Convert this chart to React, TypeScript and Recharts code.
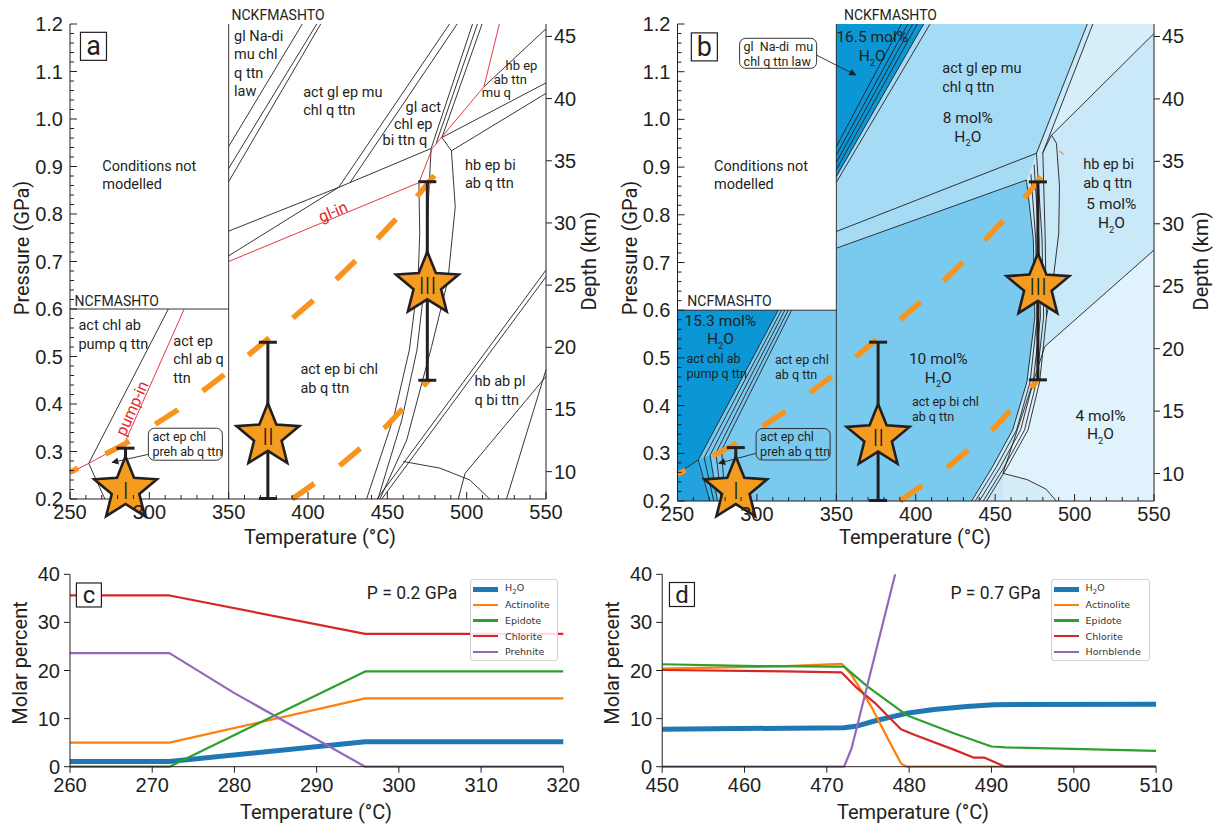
import React from 'react';
import { ComposedChart, Line, Area, Scatter, XAxis, YAxis, ErrorBar, Legend } from 'recharts';

type Pt = [number, number];

const INK = '#231f20';
const RED = '#e3262d';
const ORANGE = '#f7941d';
const STAR_FILL = '#f39c1f';
const SANS = 'Roboto, "Open Sans", sans-serif';
const ARIAL = '"Liberation Sans", Arial, sans-serif';
const MPL = '"DejaVu Sans", sans-serif';

// ---------- axes
const tempTicks = [250, 300, 350, 400, 450, 500, 550];
const pressureTicks = [0.2, 0.3, 0.4, 0.5, 0.6, 0.7, 0.8, 0.9, 1.0, 1.1, 1.2];
const depthTicks = [10, 15, 20, 25, 30, 35, 40, 45];
const depthRange = [7.8, 46];
const molarTicks = [0, 10, 20, 30, 40];
const cTempTicks = [260, 270, 280, 290, 300, 310, 320];
const dTempTicks = [450, 460, 470, 480, 490, 500, 510];

const subdivide = (major: number[], parts: number) => {
  const out: number[] = [];
  for (let i = 0; i < major.length - 1; i++) {
    const step = (major[i + 1] - major[i]) / parts;
    for (let k = 1; k < parts; k++) out.push(+(major[i] + k * step).toFixed(4));
  }
  return out;
};

// ---------- geotherms (orange dashes), same in a and b
const geoHighT = [250, 284.6, 318, 350, 381, 411, 439, 467, 492];
const geoHighP = [0.256, 0.316, 0.388, 0.469, 0.554, 0.64, 0.731, 0.83, 0.931];
const geoLowT = [390, 418.5, 450, 476.5];
const geoLowP = [0.2, 0.266, 0.355, 0.452];

// ---------- panel a
const aLines: Pt[][] = [
  [[350, 0.2], [350, 1.2]],
  [[250, 0.6], [350, 0.6]],
  [[261.8, 0.275], [312, 0.6]],
  [[261.8, 0.275], [272, 0.2]],
  [[284, 0.315], [288, 0.2]],
  [[350, 0.942], [396.4, 1.2]],
  [[350, 0.896], [405.5, 1.2]],
  [[350, 0.868], [408, 1.2]],
  [[350, 0.764], [419.3, 0.856], [477.6, 0.938]],
  [[350, 0.712], [419.3, 0.856]],
  [[419.3, 0.856], [489.2, 1.2]],
  [[426.5, 0.866], [494, 1.2]],
  [[477.6, 0.938], [503.7, 1.2]],
  [[480.8, 0.949], [506.8, 1.2]],
  [[484.4, 0.961], [509.7, 1.2]],
  [[510.9, 1.068], [550, 1.19]],
  [[484.4, 0.961], [550, 1.076]],
  [[490.4, 0.933], [550, 1.054]],
  [[484.4, 0.961], [490.4, 0.933]],
  [[469.9, 0.866], [470.4, 0.759], [469.4, 0.661], [463.9, 0.514], [454.2, 0.374], [436.9, 0.2]],
  [[477.6, 0.938], [475.9, 0.829], [473.8, 0.661], [468.7, 0.514], [459.1, 0.366], [444.1, 0.2]],
  [[490.4, 0.933], [492.8, 0.815], [488.2, 0.661], [477.9, 0.521], [462.2, 0.324], [445.3, 0.2]],
  [[443.5, 0.2], [550, 0.682]],
  [[446.5, 0.2], [550, 0.668]],
  [[460, 0.279], [483.2, 0.265], [502, 0.24], [514.5, 0.2]],
  [[494.7, 0.2], [499, 0.254], [550, 0.458]],
  [[525.1, 0.2], [550, 0.472]],
];
const aRedLines: Pt[][] = [
  [[250, 0.255], [261.8, 0.275], [284, 0.315], [322, 0.6]],
  [[350, 0.7], [469.9, 0.866], [478.3, 0.938], [510.9, 1.068], [520.6, 1.2]],
];
const aLabels = [
  { x: 353.4, y: 1.175, text: 'gl Na-di\nmu chl\nq ttn\nlaw' },
  { x: 397, y: 1.058, text: 'act gl ep mu\nchl q ttn' },
  { x: 461.5, y: 1.025, text: 'gl act' },
  { x: 454.2, y: 0.989, text: 'chl ep' },
  { x: 447, y: 0.957, text: 'bi ttn q' },
  { x: 498.9, y: 0.903, text: 'hb ep bi\nab q ttn' },
  { x: 270.3, y: 0.902, text: 'Conditions not\nmodelled' },
  { x: 255.3, y: 0.566, text: 'act chl ab\npump q ttn' },
  { x: 315.1, y: 0.533, text: 'act ep\nchl ab q\nttn' },
  { x: 395.2, y: 0.473, text: 'act ep bi chl\nab q ttn' },
  { x: 504.9, y: 0.448, text: 'hb ab pl\nq bi ttn' },
];
const aTightLabels = [
  { x: 524.5, y: 1.113, text: 'hb ep' },
  { x: 517, y: 1.084, text: 'ab ttn' },
  { x: 509.5, y: 1.056, text: 'mu q' },
];
const aSystem = [{ x: 252.9, y: 0.617, text: 'NCFMASHTO' }];
const aSystemTop = [{ x: 351.8, y: 1.2, text: 'NCKFMASHTO' }];
const aGlIn = [{ x: 415.7, y: 0.805, text: 'gl-in' }];
const aPumpIn = [{ x: 289.1, y: 0.391, text: 'pump-in' }];
const aCallout = [{ x: 299.4, y: 0.349, text: 'act ep chl\npreh ab q ttn' }];
const aArrow: Pt[] = [[299.4, 0.294], [276.5, 0.277]];
const aLetter = [{ x: 264.8, y: 1.153, text: 'a' }];
const aStars = [
  { x: 285, y: 0.22, n: 'I', err: [0.019, 0.087] },
  { x: 374.7, y: 0.332, n: 'II', err: [0.131, 0.198] },
  { x: 475.2, y: 0.651, n: 'III', err: [0.201, 0.217] },
];

// ---------- panel b
const bFill5 = [[350, 0.2, 1.2], [550, 0.2, 1.2]];
const bFillTopRight = [[485.5, 0.967, 0.979], [511.5, 1.053, 1.2], [550, 1.18, 1.2]];
const bFill4 = [[454.9, 0.258, 0.258], [470, 0.245, 0.41], [481.3, 0.222, 0.524], [488.5, 0.2, 0.545], [550, 0.2, 0.726]];
const bFillArc = [[454.9, 0.2, 0.258], [470, 0.2, 0.245], [482, 0.2, 0.225], [488.5, 0.2, 0.2]];
const bFill8 = [[350, 0.73, 1.2], [469.7, 0.873, 1.2], [476, 0.929, 1.2], [478, 0.94, 1.2], [508, 1.2, 1.2]];
const bFill10 = [[350, 0.2, 0.73], [435.2, 0.2, 0.832], [448, 0.27, 0.847], [461, 0.349, 0.863], [469.7, 0.445, 0.873], [472, 0.5, 0.807], [474, 0.55, 0.75], [475, 0.586, 0.62]];
const bFill16 = [[350, 0.88, 1.2], [405, 1.2, 1.2]];
const bFillNcf = [[250, 0.2, 0.6], [350, 0.2, 0.6]];
const bFill15 = [[250, 0.258, 0.6], [263.1, 0.286, 0.6], [313.4, 0.6, 0.6]];
const bFillCorner = [[250, 0.2, 0.258], [263.1, 0.2, 0.286], [270.4, 0.2, 0.2]];
const bFillStrip = [[263.1, 0.286, 0.286], [266.8, 0.243, 0.291], [270.4, 0.2, 0.296], [275.2, 0.2, 0.2]];

const bLines: Pt[][] = [
  [[350, 0.2], [350, 1.2]],
  [[250, 0.6], [350, 0.6]],
  [[250, 0.258], [263.1, 0.286]],
  [[313.4, 0.6], [263.1, 0.286], [270.4, 0.2]],
  [[315.5, 0.6], [266.8, 0.291], [272.8, 0.2]],
  [[317.6, 0.6], [270.5, 0.296], [275.2, 0.2]],
  [[319.7, 0.6], [274.2, 0.301], [277.6, 0.2]],
  [[321.8, 0.6], [277.8, 0.307], [279.9, 0.2]],
  [[350, 0.943], [391, 1.2]],
  [[350, 0.925], [395, 1.2]],
  [[350, 0.91], [398, 1.2]],
  [[350, 0.895], [401, 1.2]],
  [[350, 0.88], [405, 1.2]],
  [[350, 0.868], [409, 1.2]],
  [[350, 0.765], [476, 0.929]],
  [[350, 0.73], [469.7, 0.873]],
  [[435.2, 0.2], [448, 0.27], [461, 0.349], [470, 0.45], [475, 0.586], [474, 0.75], [469.7, 0.873]],
  [[437.5, 0.2], [450.5, 0.27], [463.5, 0.349], [472, 0.45], [476.5, 0.586], [475.5, 0.75], [472.5, 0.885]],
  [[440, 0.2], [453, 0.27], [466, 0.349], [474, 0.45], [478.5, 0.586], [477.5, 0.75], [474.5, 0.905]],
  [[442.5, 0.2], [455.5, 0.27], [468.5, 0.349], [476, 0.45], [480.5, 0.586], [479.5, 0.75], [476, 0.929]],
  [[444.6, 0.2], [457.5, 0.27], [470.7, 0.349], [478, 0.45], [482.3, 0.586], [481.5, 0.75], [480, 0.93]],
  [[476, 0.929], [508, 1.2]],
  [[480, 0.93], [511.5, 1.2]],
  [[480, 0.93], [485.5, 0.967], [488.6, 0.95], [490.5, 0.86], [490, 0.76], [486, 0.65], [482.3, 0.586]],
  [[485.5, 0.967], [550, 1.18]],
  [[550, 0.726], [481.3, 0.524], [454.9, 0.258], [470, 0.245], [482, 0.225], [488.5, 0.2]],
];
const bLabels = [
  { x: 273, y: 0.903, text: 'Conditions not\nmodelled' },
  { x: 416.7, y: 1.107, text: 'act gl ep mu\nchl q ttn' },
  { x: 505.4, y: 0.906, text: 'hb ep bi\nab q ttn' },
];
const bWater = [
  { x: 372.6, y: 1.173, text: '16.5 mol%\nH2O' },
  { x: 432.8, y: 1.004, text: '8 mol%\nH2O' },
  { x: 277, y: 0.579, text: '15.3 mol%\nH2O' },
  { x: 414.2, y: 0.499, text: '10 mol%\nH2O' },
  { x: 523.2, y: 0.823, text: '5 mol%\nH2O' },
  { x: 516.3, y: 0.38, text: '4 mol%\nH2O' },
];
const bSmall = [
  { x: 255.7, y: 0.499, text: 'act chl ab\npump q ttn' },
  { x: 311.4, y: 0.497, text: 'act ep chl\nab q ttn' },
  { x: 397.6, y: 0.408, text: 'act ep bi chl\nab q ttn' },
];
const bSystem = [{ x: 256.2, y: 0.619, text: 'NCFMASHTO' }];
const bSystemTop = [{ x: 354.8, y: 1.2, text: 'NCKFMASHTO' }];
const bCalloutTop = [{ x: 289.1, y: 1.17, text: 'gl  Na-di  mu\nchl q ttn law' }];
const bArrowTop: Pt[] = [[337.4, 1.135], [362.2, 1.093]];
const bCalloutLow = [{ x: 299.5, y: 0.352, text: 'act ep chl\npreh ab q ttn' }];
const bArrowLow: Pt[] = [[299.5, 0.3], [276, 0.279]];
const bLetter = [{ x: 266.9, y: 1.152, text: 'b' }];
const bStars = [
  { x: 286.7, y: 0.224, n: 'I', err: [0.023, 0.088] },
  { x: 376.3, y: 0.334, n: 'II', err: [0.133, 0.199] },
  { x: 476.9, y: 0.65, n: 'III', err: [0.196, 0.219] },
];

// ---------- panel c (P = 0.2 GPa)
const cTemps = [260, 272.1, 295.9, 320];
const cH2O = [1.1, 1.1, 5.2, 5.2];
const cAct = [5.0, 5.0, 14.2, 14.2];
const cEpi = [0, 0, 19.8, 19.8];
const cChl = [35.6, 35.6, 27.6, 27.6];
const cPrhT = [260, 272.1, 280, 295.9, 320];
const cPrh = [23.6, 23.6, 15.3, 0, 0];

// ---------- panel d (P = 0.7 GPa)
const dH2OT = [450, 472.1, 473.5, 476, 479.7, 483, 487, 490.3, 510];
const dH2O = [7.8, 8.1, 8.4, 9.6, 11.1, 11.9, 12.5, 12.9, 13.0];
const dActT = [450, 465, 471.8, 473, 475.4, 477.3, 479, 479.7, 510];
const dAct = [20.4, 20.9, 21.4, 19.1, 12.5, 6.2, 0.7, 0, 0];
const dEpiT = [450, 461.6, 472.1, 475, 479.7, 485.5, 490, 491.7, 499.8, 510];
const dEpi = [21.3, 20.9, 20.8, 16.6, 10.7, 6.9, 4.2, 4.0, 3.7, 3.3];
const dChlT = [450, 464.9, 471.8, 473.5, 476, 479, 480.7, 485.5, 487.8, 489.1, 490.7, 491.7, 510];
const dChl = [20.1, 19.8, 19.6, 16.6, 13.0, 7.8, 6.6, 3.5, 1.9, 1.9, 0.7, 0, 0];
const dHblT = [450, 472.1, 473, 478.3];
const dHbl = [0, 0, 3.8, 40];

// ---------- helpers
const zip = (xs: number[], ys: number[]) => xs.map((x, i) => ({ x, y: ys[i] }));
const toXY = (pts: Pt[]) => pts.map(([x, y]) => ({ x, y }));
const toRange = (pts: number[][]) => pts.map(([x, lo, hi]) => ({ x, r: [lo, hi] }));

function rich(s: string, size: number) {
  const i = s.indexOf('H2O');
  if (i < 0) return s;
  return [
    s.slice(0, i),
    'H',
    <tspan key="s" dy={size * 0.3} fontSize={size * 0.6}>2</tspan>,
    <tspan key="o" dy={-size * 0.3}>O</tspan>,
    s.slice(i + 3),
  ];
}

function axisTick(side: string, majors: number[], o: any) {
  return (props: any) => {
    const x = Number(props.x);
    const y = Number(props.y);
    const v = Number(props.payload && props.payload.value);
    const major = majors.some((m) => Math.abs(m - v) < 1e-6);
    const len = major ? o.len : o.minor;
    const s = o.inward ? 1 : -1;
    const off = (o.inward ? 0 : len) + o.gap;
    const txt = major ? v.toFixed(o.digits) : '';
    const ts = { fontFamily: ARIAL, fontSize: 20, fill: INK };
    if (side === 'left') {
      return (
        <g>
          {len > 0 && <line x1={x} y1={y} x2={x + s * len} y2={y} stroke={INK} strokeWidth={1} />}
          {txt && <text x={x - off} y={y} textAnchor="end" dominantBaseline="central" {...ts}>{txt}</text>}
        </g>
      );
    }
    if (side === 'right') {
      return (
        <g>
          {len > 0 && <line x1={x} y1={y} x2={x - s * len} y2={y} stroke={INK} strokeWidth={1} />}
          {txt && <text x={x + off} y={y} textAnchor="start" dominantBaseline="central" {...ts}>{txt}</text>}
        </g>
      );
    }
    return (
      <g>
        {len > 0 && <line x1={x} y1={y} x2={x} y2={y - s * len} stroke={INK} strokeWidth={1} />}
        {txt && <text x={x} y={y + off} textAnchor="middle" dominantBaseline="hanging" {...ts}>{txt}</text>}
      </g>
    );
  };
}

const title = (text: string, x: number, y: number, rot = 0) => () => (
  <text
    x={x}
    y={y}
    transform={rot ? `rotate(${rot} ${x} ${y})` : undefined}
    textAnchor="middle"
    dominantBaseline="central"
    fontFamily={SANS}
    fontSize={20}
    fill={INK}
  >
    {text}
  </text>
);

function textShape(o: { size: number; lh: number; anchor: string; color?: string; rotate?: number; dy?: number }) {
  return (p: any) => {
    const cx = p.cx;
    const cy = p.cy + (o.dy || 0);
    const lines = String(p.payload.text).split('\n');
    return (
      <text
        x={cx}
        y={cy}
        fontFamily={SANS}
        fontSize={o.size}
        fill={o.color || INK}
        textAnchor={o.anchor}
        style={{ whiteSpace: 'pre' }}
        transform={o.rotate ? `rotate(${o.rotate} ${cx} ${cy})` : undefined}
      >
        {lines.map((ln, i) => (
          <tspan key={i} x={cx} dy={i === 0 ? o.size * 0.35 : o.lh}>
            {rich(ln, o.size)}
          </tspan>
        ))}
      </text>
    );
  };
}

function calloutShape(w: number, h: number, fill: string) {
  return (p: any) => {
    const lines = String(p.payload.text).split('\n');
    return (
      <g>
        <rect x={p.cx} y={p.cy} width={w} height={h} rx={6} ry={6} fill={fill} stroke={INK} strokeWidth={0.9} />
        <text x={p.cx + 4} y={p.cy} fontFamily={SANS} fontSize={12.5} fill={INK} style={{ whiteSpace: 'pre' }}>
          {lines.map((ln, i) => (
            <tspan key={i} x={p.cx + 4} dy={i === 0 ? h * 0.27 + 4.4 : 15}>{ln}</tspan>
          ))}
        </text>
      </g>
    );
  };
}

function letterShape(w: number, h: number, size: number) {
  return (p: any) => (
    <g>
      <rect x={p.cx - w / 2} y={p.cy - h / 2} width={w} height={h} fill="#fff" stroke={INK} strokeWidth={1.2} />
      <text x={p.cx} y={p.cy} textAnchor="middle" dominantBaseline="central" fontFamily={SANS} fontSize={size} fill={INK}>
        {p.payload.text}
      </text>
    </g>
  );
}

const StarShape = (p: any) => {
  const R = 33;
  const r = 14.5;
  const pts: string[] = [];
  for (let i = 0; i < 10; i++) {
    const rad = i % 2 === 0 ? R : r;
    const a = -Math.PI / 2 + (i * Math.PI) / 5;
    pts.push(`${p.cx + rad * Math.cos(a)},${p.cy + rad * Math.sin(a)}`);
  }
  return (
    <g>
      <polygon points={pts.join(' ')} fill={STAR_FILL} stroke={INK} strokeWidth={2.6} strokeLinejoin="miter" />
      <text x={p.cx} y={p.cy + 1} textAnchor="middle" dominantBaseline="central" fontFamily={SANS} fontWeight={300} fontSize={24} letterSpacing={-0.5} fill={INK}>
        {p.payload.n}
      </text>
    </g>
  );
};

const NoShape = () => <g />;

const lineCommon = { dot: false, activeDot: false, isAnimationActive: false, legendType: 'none' as const };

function PhasePanel({ P }: { P: any }) {
  const tickL = axisTick('left', pressureTicks, { inward: true, len: 7, minor: 4, gap: 7, digits: 1 });
  const tickB = axisTick('bottom', tempTicks, { inward: true, len: 7, minor: 4, gap: 6, digits: 0 });
  const tickR = axisTick('right', depthTicks, { inward: false, len: 6, minor: 0, gap: 2, digits: 0 });
  return (
    <ComposedChart width={P.width} height={560} margin={{ top: 24, right: 0, bottom: 0, left: 0 }}>
      {P.fills.map((f: any, i: number) => (
        <Area
          key={'fill' + i}
          data={toRange(f.pts)}
          dataKey="r"
          type="linear"
          stroke="none"
          fill={f.color}
          fillOpacity={1}
          dot={false}
          activeDot={false}
          isAnimationActive={false}
          legendType="none"
        />
      ))}
      <XAxis
        dataKey="x"
        type="number"
        domain={[250, 550]}
        ticks={[...tempTicks, ...subdivide(tempTicks, 5)]}
        interval={0}
        tickSize={0}
        tickMargin={0}
        tickLine={false}
        tick={tickB}
        axisLine={{ stroke: INK, strokeWidth: 1 }}
        height={P.xh}
        label={title('Temperature (°C)', P.titles.t[0], P.titles.t[1])}
      />
      <XAxis xAxisId="top" orientation="top" type="number" domain={[250, 550]} height={0} tick={false} tickLine={false} axisLine={{ stroke: INK, strokeWidth: 1 }} />
      <YAxis
        dataKey="y"
        type="number"
        domain={[0.2, 1.2]}
        ticks={[...pressureTicks, ...subdivide(pressureTicks, 5)]}
        interval={0}
        width={P.yw}
        tickSize={0}
        tickMargin={0}
        tickLine={false}
        tick={tickL}
        axisLine={{ stroke: INK, strokeWidth: 1 }}
        label={title('Pressure (GPa)', P.titles.p[0], P.titles.p[1], -90)}
      />
      <YAxis
        yAxisId="depth"
        dataKey="y"
        orientation="right"
        type="number"
        domain={depthRange}
        ticks={depthTicks}
        interval={0}
        width={P.rw}
        tickSize={0}
        tickMargin={0}
        tickLine={false}
        tick={tickR}
        axisLine={{ stroke: INK, strokeWidth: 1 }}
        label={title('Depth (km)', P.titles.d[0], P.titles.d[1], -90)}
      />
      {/* invisible carrier so the depth axis gets its scale */}
      <Line yAxisId="depth" data={[{ x: 250, y: depthRange[0] }, { x: 250, y: depthRange[1] }]} dataKey="y" stroke="transparent" strokeWidth={0} {...lineCommon} />
      {P.black.map((pts: Pt[], i: number) => (
        <Line key={'b' + i} data={toXY(pts)} dataKey="y" type="linear" stroke={INK} strokeWidth={0.9} {...lineCommon} />
      ))}
      {P.red.map((pts: Pt[], i: number) => (
        <Line key={'r' + i} data={toXY(pts)} dataKey="y" type="linear" stroke={RED} strokeWidth={0.9} {...lineCommon} />
      ))}
      {P.arrows.map((pts: Pt[], i: number) => (
        <Line key={'a' + i} data={toXY(pts)} dataKey="y" type="linear" stroke={INK} strokeWidth={0.9} markerEnd="url(#arrowHead)" {...lineCommon} />
      ))}
      <Line data={zip(geoHighT, geoHighP)} dataKey="y" type="linear" stroke={ORANGE} strokeWidth={5.5} strokeDasharray="27 31" strokeDashoffset={18} {...lineCommon} />
      <Line data={zip(geoLowT, geoLowP)} dataKey="y" type="linear" stroke={ORANGE} strokeWidth={5.5} strokeDasharray="27 31" {...lineCommon} />
      {P.texts.map((t: any, i: number) => (
        <Scatter key={'t' + i} data={t.data} dataKey="y" shape={textShape(t.style)} isAnimationActive={false} legendType="none" />
      ))}
      {P.callouts.map((c: any, i: number) => (
        <Scatter key={'c' + i} data={c.data} dataKey="y" shape={calloutShape(c.w, c.h, c.fill)} isAnimationActive={false} legendType="none" />
      ))}
      <Scatter data={P.letter} dataKey="y" shape={letterShape(26, 28, 27)} isAnimationActive={false} legendType="none" />
      <Scatter data={P.stars} dataKey="y" shape={NoShape} isAnimationActive={false} legendType="none">
        <ErrorBar dataKey="err" direction="y" width={9} stroke={INK} strokeWidth={3} isAnimationActive={false} />
      </Scatter>
      <Scatter data={P.stars} dataKey="y" shape={StarShape} isAnimationActive={false} legendType="none" />
    </ComposedChart>
  );
}

function legendContent(items: any[], w: number) {
  return () => (
    <div
      style={{
        width: w,
        height: 82,
        boxSizing: 'border-box',
        border: '1px solid #d0d0d0',
        borderRadius: 3,
        background: 'rgba(255,255,255,0.85)',
        paddingTop: 1.5,
      }}
    >
      {items.map((it) => (
        <div key={it.name} style={{ display: 'flex', alignItems: 'center', height: 15.6 }}>
          <span style={{ display: 'inline-block', marginLeft: 2, width: 25, height: it.w, background: it.color }} />
          <span style={{ marginLeft: 7, fontFamily: MPL, fontSize: 9.5, color: '#333', whiteSpace: 'nowrap' }}>
            {it.name === 'H2O' ? (
              <>
                H<sub style={{ fontSize: 7 }}>2</sub>O
              </>
            ) : (
              it.name
            )}
          </span>
        </div>
      ))}
    </div>
  );
}

function MolarPanel({ P }: { P: any }) {
  const tickL = axisTick('left', molarTicks, { inward: false, len: 6, minor: 0, gap: 4, digits: 0 });
  const tickB = axisTick('bottom', P.ticks, { inward: false, len: 6, minor: 0, gap: 5, digits: 0 });
  return (
    <ComposedChart width={P.width} height={265} margin={{ top: 14.3, right: P.mr, bottom: 0, left: 0 }}>
      <XAxis
        dataKey="x"
        type="number"
        domain={P.domain}
        ticks={P.ticks}
        interval={0}
        tickSize={0}
        tickMargin={0}
        tickLine={false}
        tick={tickB}
        axisLine={{ stroke: INK, strokeWidth: 1 }}
        height={58.3}
        label={title('Temperature (°C)', P.titles.t[0], P.titles.t[1])}
      />
      <XAxis xAxisId="top" orientation="top" type="number" domain={P.domain} height={0} tick={false} tickLine={false} axisLine={{ stroke: INK, strokeWidth: 1 }} />
      <YAxis
        dataKey="y"
        type="number"
        domain={[0, 40]}
        ticks={molarTicks}
        interval={0}
        width={P.yw}
        tickSize={0}
        tickMargin={0}
        tickLine={false}
        tick={tickL}
        axisLine={{ stroke: INK, strokeWidth: 1 }}
        label={title('Molar percent', P.titles.m[0], P.titles.m[1], -90)}
      />
      <YAxis yAxisId="spine" orientation="right" type="number" domain={[0, 40]} width={0} tick={false} tickLine={false} axisLine={{ stroke: INK, strokeWidth: 1 }} />
      {P.series.map((s: any) => (
        <Line
          key={s.name}
          name={s.name}
          data={s.data}
          dataKey="y"
          type="linear"
          stroke={s.color}
          strokeWidth={s.w}
          strokeLinejoin="round"
          dot={false}
          activeDot={false}
          isAnimationActive={false}
        />
      ))}
      <Scatter data={P.pText} dataKey="y" shape={textShape({ size: 17.5, lh: 20, anchor: 'middle' })} isAnimationActive={false} legendType="none" />
      <Scatter data={P.letter} dataKey="y" shape={letterShape(25, 24, 24)} isAnimationActive={false} legendType="none" />
      <Legend
        layout="vertical"
        align="center"
        verticalAlign="middle"
        wrapperStyle={{ left: P.legendLeft, top: 19, width: P.legendW }}
        content={legendContent(P.series, P.legendW)}
      />
    </ComposedChart>
  );
}

const regionStyle = { size: 14.5, lh: 18.3, anchor: 'start' };
const systemStyle = { size: 14, lh: 16, anchor: 'start' };

const panelA = {
  width: 600,
  yw: 70,
  rw: 54,
  xh: 61,
  titles: { p: [21.5, 248], d: [588.5, 261], t: [320, 537] },
  fills: [],
  black: aLines,
  red: aRedLines,
  arrows: [aArrow],
  texts: [
    { data: aLabels, style: regionStyle },
    { data: aTightLabels, style: { size: 13, lh: 16, anchor: 'start' } },
    { data: aSystem, style: systemStyle },
    { data: aSystemTop, style: { ...systemStyle, dy: -9 } },
    { data: aGlIn, style: { size: 16, lh: 16, anchor: 'middle', color: RED, rotate: -22.5 } },
    { data: aPumpIn, style: { size: 16, lh: 16, anchor: 'middle', color: RED, rotate: -66 } },
  ],
  callouts: [{ data: aCallout, w: 74, h: 32, fill: '#fff' }],
  letter: aLetter,
  stars: aStars,
};

const panelB = {
  width: 617,
  yw: 77.5,
  rw: 63,
  xh: 59,
  titles: { p: [29.5, 248], d: [601, 261], t: [315, 537] },
  fills: [
    { pts: bFill5, color: '#c9e8f8' },
    { pts: bFillTopRight, color: '#d7effb' },
    { pts: bFill4, color: '#e0f2fc' },
    { pts: bFillArc, color: '#d4edf9' },
    { pts: bFill8, color: '#a6dbf6' },
    { pts: bFill10, color: '#7acaf0' },
    { pts: bFill16, color: '#0b96d5' },
    { pts: bFillNcf, color: '#7acaf0' },
    { pts: bFill15, color: '#0b96d5' },
    { pts: bFillCorner, color: '#23a2dd' },
    { pts: bFillStrip, color: '#3ab6ea' },
  ],
  black: bLines,
  red: [],
  arrows: [bArrowTop, bArrowLow],
  texts: [
    { data: bLabels, style: regionStyle },
    { data: bWater, style: { size: 15.5, lh: 18.7, anchor: 'middle' } },
    { data: bSmall, style: { size: 12.5, lh: 15.2, anchor: 'start' } },
    { data: bSystem, style: systemStyle },
    { data: bSystemTop, style: { ...systemStyle, dy: -9 } },
  ],
  callouts: [
    { data: bCalloutTop, w: 77, h: 30, fill: '#fff' },
    { data: bCalloutLow, w: 74, h: 31.5, fill: '#7acaf0' },
  ],
  letter: bLetter,
  stars: bStars,
};

const panelC = {
  width: 600,
  yw: 70,
  mr: 36.7,
  domain: [260, 320],
  ticks: cTempTicks,
  titles: { m: [20, 103], t: [316, 252] },
  series: [
    { name: 'H2O', color: '#1f77b4', w: 5, data: zip(cTemps, cH2O) },
    { name: 'Actinolite', color: '#ff7f0e', w: 2.2, data: zip(cTemps, cAct) },
    { name: 'Epidote', color: '#2ca02c', w: 2.2, data: zip(cTemps, cEpi) },
    { name: 'Chlorite', color: '#d62728', w: 2.2, data: zip(cTemps, cChl) },
    { name: 'Prehnite', color: '#9467bd', w: 2.2, data: zip(cPrhT, cPrh) },
  ],
  pText: [{ x: 301.6, y: 36.1, text: 'P = 0.2 GPa' }],
  letter: [{ x: 262.3, y: 35.7, text: 'c' }],
  legendLeft: 470,
  legendW: 88,
};

const panelD = {
  width: 617,
  yw: 62.2,
  mr: 60.9,
  domain: [450, 510],
  ticks: dTempTicks,
  titles: { m: [11.5, 103], t: [313, 252] },
  series: [
    { name: 'H2O', color: '#1f77b4', w: 5, data: zip(dH2OT, dH2O) },
    { name: 'Actinolite', color: '#ff7f0e', w: 2.2, data: zip(dActT, dAct) },
    { name: 'Epidote', color: '#2ca02c', w: 2.2, data: zip(dEpiT, dEpi) },
    { name: 'Chlorite', color: '#d62728', w: 2.2, data: zip(dChlT, dChl) },
    { name: 'Hornblende', color: '#9467bd', w: 2.2, data: zip(dHblT, dHbl) },
  ],
  pText: [{ x: 490.5, y: 36.1, text: 'P = 0.7 GPa' }],
  letter: [{ x: 452.4, y: 35.8, text: 'd' }],
  legendLeft: 450.6,
  legendW: 99,
};

export default function App() {
  return (
    <div style={{ position: 'absolute', left: 0, top: 0, width: 1217, height: 825, background: '#fff', overflow: 'hidden' }}>
      <svg width={0} height={0} style={{ position: 'absolute' }}>
        <defs>
          <marker id="arrowHead" viewBox="0 0 10 10" refX={9} refY={5} markerWidth={9} markerHeight={7} orient="auto" markerUnits="userSpaceOnUse">
            <path d="M0,0 L10,5 L0,10 z" fill={INK} />
          </marker>
        </defs>
      </svg>
      <div style={{ position: 'absolute', left: 0, top: 0 }}>
        <PhasePanel P={panelA} />
      </div>
      <div style={{ position: 'absolute', left: 600, top: 0 }}>
        <PhasePanel P={panelB} />
      </div>
      <div style={{ position: 'absolute', left: 0, top: 560 }}>
        <MolarPanel P={panelC} />
      </div>
      <div style={{ position: 'absolute', left: 600, top: 560 }}>
        <MolarPanel P={panelD} />
      </div>
    </div>
  );
}
